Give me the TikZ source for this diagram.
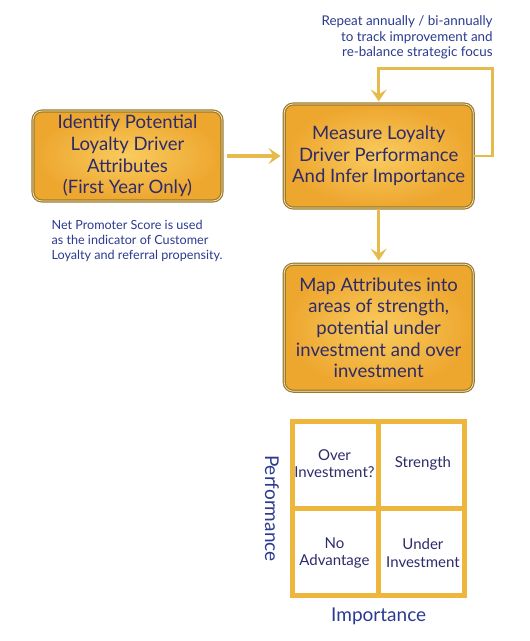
\documentclass[tikz,border=0pt]{standalone}
\usepackage{fontspec}
\setmainfont{Lato}
\usetikzlibrary{arrows.meta,positioning,calc}
\definecolor{ink}{HTML}{2E2B6B}
\definecolor{noteblue}{HTML}{2B3A8F}
\definecolor{goldhi}{HTML}{F9CB5E}
\definecolor{goldlo}{HTML}{EDA62E}
\definecolor{goldrim}{HTML}{9A7A2C}
\definecolor{goldline}{HTML}{E6BB4C}
\definecolor{gridgold}{HTML}{EFB63E}
\tikzset{
  every node/.style={text=ink},
  stepbox/.style={draw=goldrim,line width=1.2pt,double=goldhi!40!white,double distance=0.7pt,rounded corners=9pt,shading=radial,inner color=goldhi,outer color=goldlo,align=center,minimum width=189pt,inner sep=3pt,font=\fontsize{18.5}{21.7}\selectfont},
  flow/.style={-{Stealth[length=12pt,width=16pt,inset=5pt]},line width=3.2pt,draw=goldline},
  loopback/.style={flow,line width=2.8pt},
  note/.style={text=noteblue,inner sep=1pt,font=\fontsize{12.6}{15}\selectfont},
  grid/.style={draw=gridgold,line width=5pt,fill=white,inner sep=0pt,minimum width=172pt,minimum height=174pt},
  gridline/.style={draw=gridgold,line width=4.5pt},
  cell/.style={align=center,inner sep=1pt,font=\fontsize{15}{17.5}\selectfont},
  axis/.style={text=noteblue,inner sep=2pt,font=\fontsize{19}{22}\selectfont},
}

\begin{document}
\begin{tikzpicture}[x=1pt,y=-1pt]
\useasboundingbox (0,0) rectangle (530,641);

% process boxes
\node[stepbox,minimum height=90pt] (identify) at (127.5,156)
{Identify Potential\\Loyalty Driver\\Attributes\\(First Year Only)};
\node[stepbox,minimum height=104pt,right=61pt of identify] (measure)
{Measure Loyalty\\Driver Performance\\And Infer Importance};
\node[stepbox,minimum height=127pt,below=55pt of measure] (mapattr)
{Map Attributes into\\areas of strength,\\potential under\\investment and over\\investment};

% notes
\node[note,align=left,below right=17pt and 18pt of identify.south west] (nps)
{Net Promoter Score is used\\as the indicator of Customer\\Loyalty and referral propensity.};
\coordinate (loopright) at ([xshift=19pt]measure.east);
\coordinate[above=35pt of measure.north] (looptop);
\node[note,align=right,anchor=south east,font=\fontsize{13.4}{15.5}\selectfont] (repeat) at ([xshift=1pt,yshift=8pt]looptop -| loopright)
{Repeat annually / bi-annually\\to track improvement and\\re-balance strategic focus};

% arrows
\draw[flow,shorten <=4pt,shorten >=3pt] (identify) -- (measure);
\draw[flow,shorten >=3pt] (measure) -- (mapattr);
\draw[loopback,shorten >=2pt] (measure.east) -- (loopright) |- (looptop) -- (measure.north);

% quadrant grid
\node[grid,below=27pt of mapattr] (quad) {};
\draw[gridline] (quad.north) -- (quad.south);
\draw[gridline] (quad.west) -- (quad.east);
\node[cell] (overinv) at ($(quad.center)!0.5!(quad.north west)$) {Over\\Investment?};
\node[cell] (strength) at ($(quad.center)!0.5!(quad.north east)$) {Strength};
\node[cell] (noadv) at ($(quad.center)!0.5!(quad.south west)$) {No\\Advantage};
\node[cell] (underinv) at ($(quad.center)!0.5!(quad.south east)$) {Under\\Investment};
\node[axis,rotate=-90,anchor=north] (perf) at ([xshift=-9pt]quad.west) {Performance};
\node[axis,below=8pt of quad] (importance) {Importance};

\end{tikzpicture}
\end{document}
